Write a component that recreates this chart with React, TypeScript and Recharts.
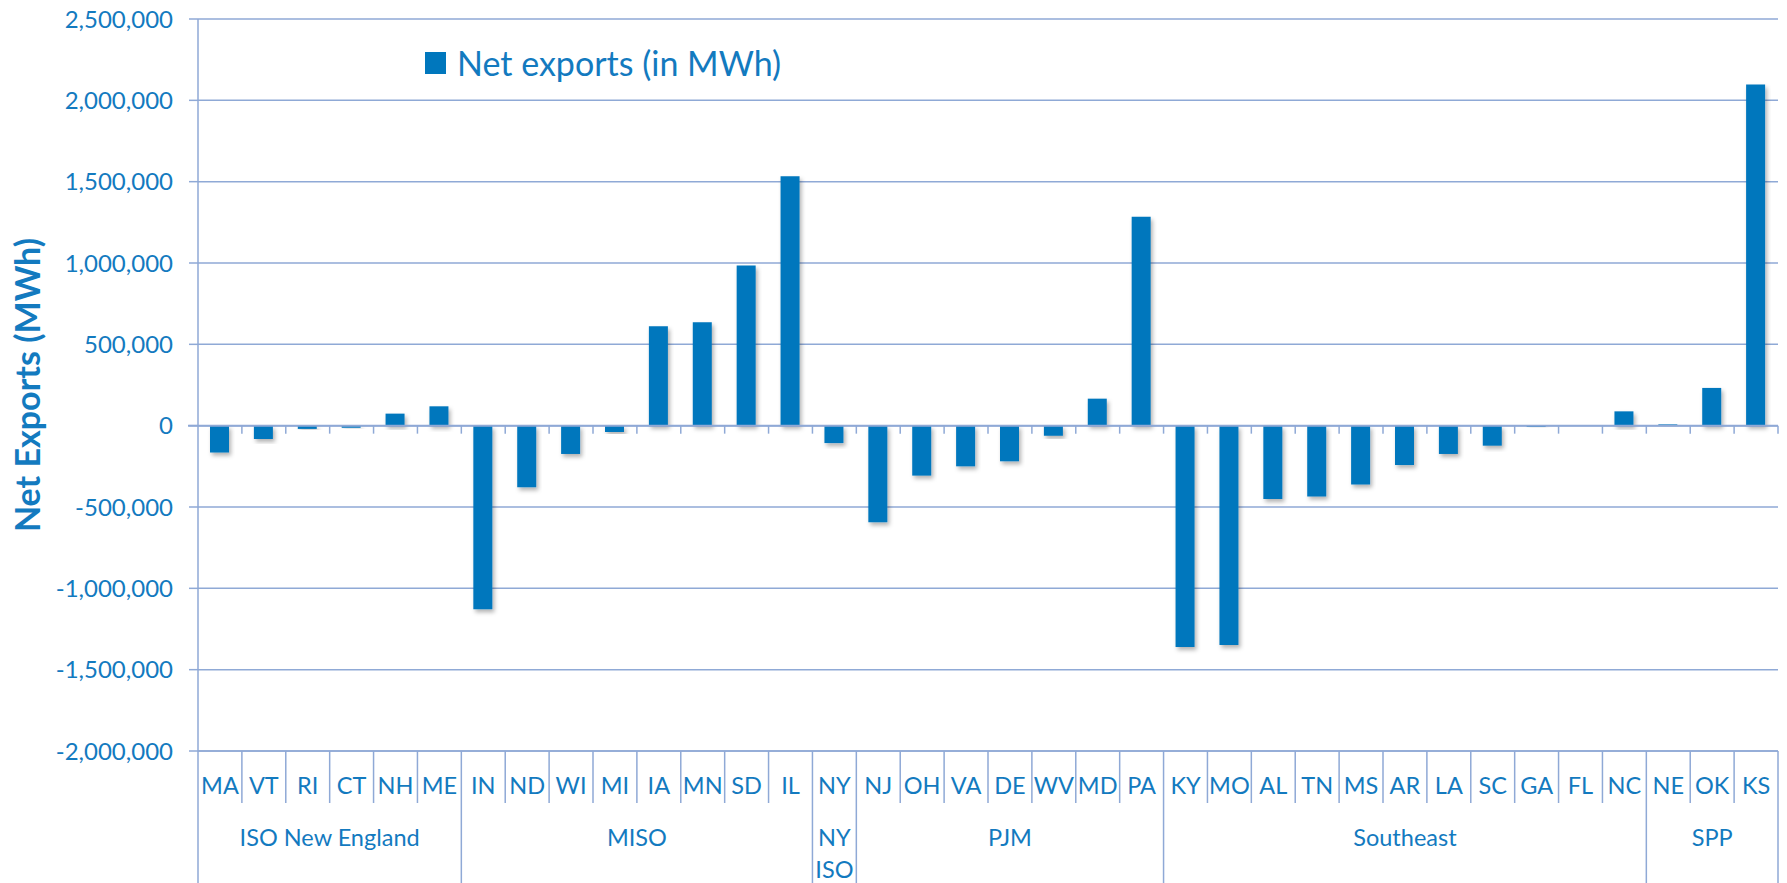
import { BarChart, Bar, XAxis, YAxis, CartesianGrid, ReferenceLine, Legend } from "recharts";

const states = [
  "MA", "VT", "RI", "CT", "NH", "ME",
  "IN", "ND", "WI", "MI", "IA", "MN", "SD", "IL",
  "NY",
  "NJ", "OH", "VA", "DE", "WV", "MD", "PA",
  "KY", "MO", "AL", "TN", "MS", "AR", "LA", "SC", "GA", "FL", "NC",
  "NE", "OK", "KS",
];

const regions = [
  "ISO New England", "ISO New England", "ISO New England", "ISO New England", "ISO New England", "ISO New England",
  "MISO", "MISO", "MISO", "MISO", "MISO", "MISO", "MISO", "MISO",
  "NY ISO",
  "PJM", "PJM", "PJM", "PJM", "PJM", "PJM", "PJM",
  "Southeast", "Southeast", "Southeast", "Southeast", "Southeast", "Southeast", "Southeast", "Southeast", "Southeast", "Southeast", "Southeast",
  "SPP", "SPP", "SPP",
];

// net exports in MWh
const netExports = [
  -165000, -82000, -20000, -13000, 74000, 119000,
  -1128000, -379000, -174000, -39000, 611000, 635000, 984000, 1533000,
  -107000,
  -594000, -307000, -250000, -219000, -62000, 166000, 1285000,
  -1361000, -1349000, -451000, -435000, -361000, -242000, -174000, -123000, -8000, 0, 88000,
  8000, 232000, 2097000,
];

const yTicks = [-2000000, -1500000, -1000000, -500000, 0, 500000, 1000000, 1500000, 2000000, 2500000];

const data = states.map((state, i) => ({ state, region: regions[i], value: netExports[i] }));

const TEXT = "#137ABF";
const BAR = "#0077BD";
const GRID = "#8FA9D6";
const FONT = "Lato, 'Open Sans', sans-serif";

function StateTick(props: any) {
  const { x, y, payload, index, width, visibleTicksCount } = props;
  const half = payload.offset || width / visibleTicksCount / 2;
  const region = regions[index];
  const first = index === 0 || regions[index - 1] !== region;
  const last = index === regions.length - 1 || regions[index + 1] !== region;
  const count = regions.filter((r) => r === region).length;
  const groupX = x - half + count * half;
  const lines = count === 1 ? region.split(" ") : [region];
  return (
    <g>
      <text x={x} y={y + 43} textAnchor="middle" fill={TEXT} fontSize={23.5} fontFamily={FONT}>
        {payload.value}
      </text>
      <line x1={x + half} x2={x + half} y1={y} y2={last ? y + 132 : y + 52} stroke={GRID} strokeWidth={1.5} />
      {index === 0 && <line x1={x - half} x2={x - half} y1={y} y2={y + 132} stroke={GRID} strokeWidth={1.5} />}
      {first &&
        lines.map((l, k) => (
          <text key={k} x={groupX} y={y + 95 + k * 32} textAnchor="middle" fill={TEXT} fontSize={23.5} fontFamily={FONT}>
            {l}
          </text>
        ))}
    </g>
  );
}

function ZeroLine(props: any) {
  const { x1, x2, y1 } = props;
  const band = (x2 - x1) / states.length;
  return (
    <g>
      <line x1={x1 - 10} x2={x2} y1={y1} y2={y1} stroke={GRID} strokeWidth={2} />
      {states.map((s, k) => (
        <line key={s} x1={x1 + (k + 1) * band} x2={x1 + (k + 1) * band} y1={y1} y2={y1 + 8} stroke={GRID} strokeWidth={1.5} />
      ))}
    </g>
  );
}

function YTitle(props: any) {
  const { viewBox } = props;
  const cy = viewBox.y + viewBox.height / 2;
  return (
    <text
      x={40}
      y={cy}
      transform={`rotate(-90, 40, ${cy})`}
      textAnchor="middle"
      fill={TEXT}
      fontSize={34}
      fontWeight="bold"
      fontFamily={FONT}
    >
      Net Exports (MWh)
    </text>
  );
}

function LegendBox() {
  return (
    <div style={{ display: "flex", alignItems: "center", fontFamily: FONT, fontSize: 34, color: TEXT, whiteSpace: "nowrap" }}>
      <span style={{ display: "inline-block", width: 21, height: 22, background: BAR, marginRight: 11 }} />
      Net exports (in MWh)
    </div>
  );
}

export default function App() {
  return (
    <div style={{ position: "absolute", left: 0, top: 0, background: "#fff" }}>
      <BarChart width={1787} height={883} data={data} margin={{ top: 19, right: 9, bottom: 0, left: 0 }}>
        <defs>
          <filter id="barShadow" x="-20%" y="-20%" width="150%" height="150%">
            <feDropShadow dx="2" dy="3" stdDeviation="2" floodColor="#000" floodOpacity="0.3" />
          </filter>
        </defs>
        <CartesianGrid vertical={false} stroke={GRID} strokeWidth={1.5} />
        <XAxis
          dataKey="state"
          height={132}
          interval={0}
          tickLine={false}
          tickSize={0}
          tickMargin={0}
          axisLine={{ stroke: GRID, strokeWidth: 1.5 }}
          tick={<StateTick />}
        />
        <YAxis
          width={198}
          domain={[-2000000, 2500000]}
          ticks={yTicks}
          interval={0}
          tickSize={9}
          tickMargin={16}
          axisLine={{ stroke: GRID, strokeWidth: 1.5 }}
          tickLine={{ stroke: GRID, strokeWidth: 1.5 }}
          tick={{ fill: TEXT, fontSize: 24, fontFamily: FONT }}
          tickFormatter={(v: number) => v.toLocaleString("en-US")}
          label={<YTitle />}
        />
        <Legend
          verticalAlign="middle"
          align="center"
          layout="horizontal"
          wrapperStyle={{ left: 425, top: 42, width: "auto" }}
          content={<LegendBox />}
        />
        <Bar dataKey="value" fill={BAR} barSize={19} isAnimationActive={false} filter="url(#barShadow)" />
        <ReferenceLine y={0} shape={<ZeroLine />} />
      </BarChart>
    </div>
  );
}
